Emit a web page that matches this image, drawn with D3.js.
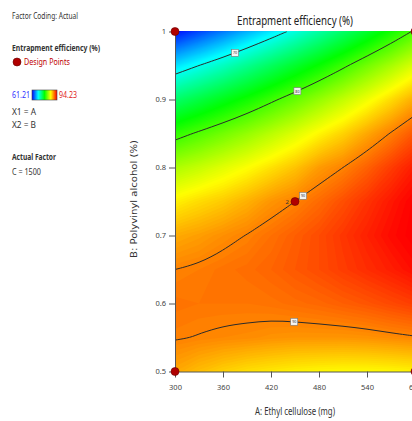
<!DOCTYPE html>
<html>
<head>
<meta charset="utf-8">
<script src="https://cdn.jsdelivr.net/npm/d3@7"></script>
<style>
  html, body { margin: 0; padding: 0; background: #fff; }
  svg { display: block; font-family: "Noto Sans", "Open Sans", sans-serif; }
</style>
</head>
<body>
<svg id="chart" width="412" height="421"></svg>
<script>
// factor levels of the response grid (A across, B from top to bottom)
const ethylCellulose = [300, 330, 360, 390, 420, 450, 480, 510, 540, 570, 600];
const polyvinylAlcohol = [1.0, 0.95, 0.9, 0.85, 0.8, 0.75, 0.7, 0.65, 0.6, 0.55, 0.5];

// entrapment efficiency (%), one row per B level
const efficiency = [
  [61.8, 63.5, 65.2, 67.0, 68.8, 70.6, 72.5, 74.4, 76.3, 78.3, 80.3],
  [68.5, 70.0, 71.5, 73.1, 74.7, 76.3, 77.9, 79.6, 81.4, 83.1, 84.9],
  [74.3, 75.6, 76.9, 78.2, 79.6, 81.0, 82.5, 84.0, 85.5, 87.1, 88.7],
  [79.2, 80.3, 81.4, 82.5, 83.7, 84.9, 86.2, 87.4, 88.8, 90.1, 91.5],
  [83.3, 84.1, 85.0, 85.9, 86.9, 87.9, 89.2, 90.0, 91.1, 92.3, 93.4],
  [86.4, 87.1, 87.7, 88.5, 89.4, 90.0, 90.8, 91.7, 92.6, 93.5, 94.3],
  [88.7, 89.1, 89.6, 90.05, 90.6, 91.2, 91.8, 92.5, 93.2, 93.9, 94.4],
  [90.0, 90.2, 90.5, 90.7, 91.0, 91.4, 91.8, 92.3, 92.8, 93.3, 93.9],
  [90.5, 90.4, 90.4, 90.4, 90.5, 90.7, 90.9, 91.2, 91.5, 91.9, 92.3],
  [90.1, 89.95, 89.8, 89.7, 89.5, 89.4, 89.4, 89.4, 89.5, 89.7, 89.9],
  [88.8, 88.1, 87.5, 87.0, 86.7, 86.4, 86.2, 86.1, 86.1, 86.2, 86.4]
];

const responseRange = [61.21, 94.23];
const contourLevels = [70, 80, 90];
// where each contour label sits (A value, rough B to pick the right crossing)
const contourLabels = [
  {level: 70, a: 375, b: 0.97},
  {level: 80, a: 453, b: 0.92},
  {level: 90, a: 460, b: 0.76},
  {level: 90, a: 449, b: 0.58}
];
const designPoints = [
  {a: 300, b: 1.0, n: 1},
  {a: 300, b: 0.5, n: 1},
  {a: 450, b: 0.75, n: 2},
  {a: 600, b: 1.0, n: 1},
  {a: 600, b: 0.5, n: 1}
];
const xTicks = [300, 360, 420, 480, 540, 600];
const yTicks = [0.5, 0.6, 0.7, 0.8, 0.9, 1];

const svg = d3.select("#chart");

const x = d3.scaleLinear().domain([300, 600]).range([175, 415]);
const y = d3.scaleLinear().domain([0.5, 1]).range([371.5, 31.5]);

const rainbow = ["#0000ff", "#00ffff", "#00ff00", "#ffff00", "#ff0000"];
const color = d3.scaleLinear()
  .domain(d3.range(5).map(i => responseRange[0] + i * (responseRange[1] - responseRange[0]) / 4))
  .range(rainbow)
  .clamp(true);

// grid coordinates from d3.contours -> data values
const nx = ethylCellulose.length, ny = polyvinylAlcohol.length;
const values = efficiency.flat();
const gx = d3.scaleLinear().domain([0.5, nx - 0.5]).range([ethylCellulose[0], ethylCellulose[nx - 1]]);
const gy = d3.scaleLinear().domain([0.5, ny - 0.5]).range([polyvinylAlcohol[0], polyvinylAlcohol[ny - 1]]);
const project = p => [x(gx(p[0])), y(gy(p[1]))];

const defs = svg.append("defs");
defs.append("clipPath").attr("id", "plot-clip")
  .append("rect")
  .attr("x", x(300)).attr("y", y(1))
  .attr("width", x(600) - x(300)).attr("height", y(0.5) - y(1));

const plot = svg.append("g").attr("clip-path", "url(#plot-clip)");

// colour field, many thin bands
const bands = d3.contours().size([nx, ny]).thresholds(d3.range(60, 95.01, 0.2))(values);
const toScreen = d3.geoTransform({
  point(px, py) {
    const p = project([px, py]);
    this.stream.point(p[0], p[1]);
  }
});
plot.selectAll("path.band")
  .data(bands)
  .join("path")
  .attr("class", "band")
  .attr("d", d3.geoPath(toScreen))
  .attr("fill", d => color(d.value + 0.1));

// contour lines, leaving out the padding border that d3.contours adds
function isolineRuns(ring) {
  const pts = ring.slice(0, -1);
  const onEdge = p => p[0] <= 0 || p[0] >= nx || p[1] <= 0 || p[1] >= ny;
  const start = pts.findIndex(onEdge);
  if (start < 0) return [{closed: true, pts: pts}];
  const runs = [];
  let cur = [];
  for (let i = 1; i <= pts.length; i++) {
    const p = pts[(start + i) % pts.length];
    if (onEdge(p)) {
      if (cur.length > 1) runs.push({closed: false, pts: cur});
      cur = [];
    } else {
      cur.push(p);
    }
  }
  return runs;
}

const isolines = [];
d3.contours().size([nx, ny]).thresholds(contourLevels)(values).forEach(c => {
  c.coordinates.forEach(poly => poly.forEach(ring => {
    isolineRuns(ring).forEach(run => isolines.push({level: c.value, closed: run.closed, pts: run.pts}));
  }));
});

const openLine = d3.line().curve(d3.curveBasis);
const closedLine = d3.line().curve(d3.curveBasisClosed);
plot.selectAll("path.iso")
  .data(isolines)
  .join("path")
  .attr("class", "iso")
  .attr("d", d => (d.closed ? closedLine : openLine)(d.pts.map(project)))
  .attr("fill", "none")
  .attr("stroke", "#2b2b2b")
  .attr("stroke-width", 1);

// contour labels: find where the line crosses the label's A value
contourLabels.forEach(lb => {
  let best = null;
  isolines.filter(l => l.level === lb.level).forEach(l => {
    const pts = l.pts.map(p => [gx(p[0]), gy(p[1])]);
    for (let i = 0; i < pts.length - 1; i++) {
      const [a1, b1] = pts[i], [a2, b2] = pts[i + 1];
      if ((a1 - lb.a) * (a2 - lb.a) <= 0 && a1 !== a2) {
        const bb = b1 + (b2 - b1) * (lb.a - a1) / (a2 - a1);
        if (!best || Math.abs(bb - lb.b) < Math.abs(best - lb.b)) best = bb;
      }
    }
  });
  if (best === null) return;
  const cx = x(lb.a), cy = y(best);
  const g = plot.append("g").attr("transform", `translate(${cx},${cy})`);
  g.append("rect")
    .attr("x", -3.5).attr("y", -3.5).attr("width", 7).attr("height", 7)
    .attr("fill", "#f4f4f4").attr("stroke", "#777").attr("stroke-width", 0.6);
  g.append("text")
    .attr("text-anchor", "middle").attr("y", 1.5)
    .attr("font-size", 3.6).attr("fill", "#333")
    .text(lb.level);
});

// axes
const xAxis = svg.append("g")
  .attr("transform", `translate(0,${y(0.5)})`)
  .call(d3.axisBottom(x).tickValues(xTicks).tickSize(6).tickSizeOuter(0).tickPadding(7));
const yAxis = svg.append("g")
  .attr("transform", `translate(${x(300)},0)`)
  .call(d3.axisLeft(y).tickValues(yTicks).tickSize(6).tickSizeOuter(0).tickPadding(3).tickFormat(d3.format("")));
[xAxis, yAxis].forEach(ax => {
  ax.select(".domain").attr("stroke", "#555");
  ax.selectAll(".tick line").attr("stroke", "#555");
  ax.selectAll(".tick text").attr("fill", "#444").attr("font-size", 7.5)
    .attr("font-family", "'Noto Sans', sans-serif");
});

// design points
svg.selectAll("circle.dp")
  .data(designPoints)
  .join("circle")
  .attr("class", "dp")
  .attr("cx", d => x(d.a)).attr("cy", d => y(d.b)).attr("r", 4)
  .attr("fill", "#b00000").attr("stroke", "#6a0000").attr("stroke-width", 0.6);
svg.selectAll("text.dpn")
  .data(designPoints.filter(d => d.n > 1))
  .join("text")
  .attr("class", "dpn")
  .attr("x", d => x(d.a) - 6).attr("y", d => y(d.b) + 2)
  .attr("text-anchor", "end").attr("font-size", 6).attr("fill", "#333")
  .text(d => d.n);

// titles
svg.append("text")
  .attr("x", 295).attr("y", 25).attr("text-anchor", "middle")
  .attr("font-size", 12).attr("fill", "#222")
  .attr("textLength", 116).attr("lengthAdjust", "spacingAndGlyphs")
  .text("Entrapment efficiency  (%)");
svg.append("text")
  .attr("x", 295).attr("y", 415).attr("text-anchor", "middle")
  .attr("font-size", 10).attr("fill", "#333")
  .attr("textLength", 80).attr("lengthAdjust", "spacingAndGlyphs")
  .text("A: Ethyl cellulose (mg)");
svg.append("text")
  .attr("transform", "translate(137,199) rotate(-90)")
  .attr("text-anchor", "middle")
  .attr("font-family", "'DejaVu Sans', sans-serif")
  .attr("font-size", 8.5).attr("fill", "#333")
  .attr("textLength", 118).attr("lengthAdjust", "spacingAndGlyphs")
  .text("B: Polyvinyl alcohol  (%)");

// legend block
const legend = svg.append("g").attr("font-size", 8.8).attr("fill", "#333");
const ltext = (tx, ty, s, opts = {}) => {
  const t = legend.append("text").attr("x", tx).attr("y", ty).text(s);
  if (opts.bold) t.attr("font-weight", "bold");
  if (opts.fill) t.attr("fill", opts.fill);
  if (opts.w) t.attr("textLength", opts.w).attr("lengthAdjust", "spacingAndGlyphs");
  return t;
};
ltext(12, 19, "Factor Coding: Actual", {w: 66});
ltext(12, 51, "Entrapment efficiency  (%)", {bold: true, w: 88});
legend.append("circle").attr("cx", 17).attr("cy", 62).attr("r", 4)
  .attr("fill", "#b00000").attr("stroke", "#6a0000").attr("stroke-width", 0.6);
ltext(24, 65, "Design Points", {fill: "#c00000", w: 46});

const grad = defs.append("linearGradient").attr("id", "legend-grad");
rainbow.forEach((c, i) => grad.append("stop").attr("offset", (i / 4) * 100 + "%").attr("stop-color", c));
ltext(12, 98, responseRange[0].toFixed(2), {fill: "#3030ff", w: 18});
legend.append("rect").attr("x", 32).attr("y", 90).attr("width", 25).attr("height", 10)
  .attr("fill", "url(#legend-grad)").attr("stroke", "#444").attr("stroke-width", 0.6);
ltext(59, 98, responseRange[1].toFixed(2), {fill: "#e02020", w: 18});
ltext(12, 115, "X1 = A", {w: 24});
ltext(12, 128, "X2 = B", {w: 24});
ltext(12, 160, "Actual Factor", {bold: true, w: 44});
ltext(12, 175, "C = 1500", {w: 29});
</script>
</body>
</html>
